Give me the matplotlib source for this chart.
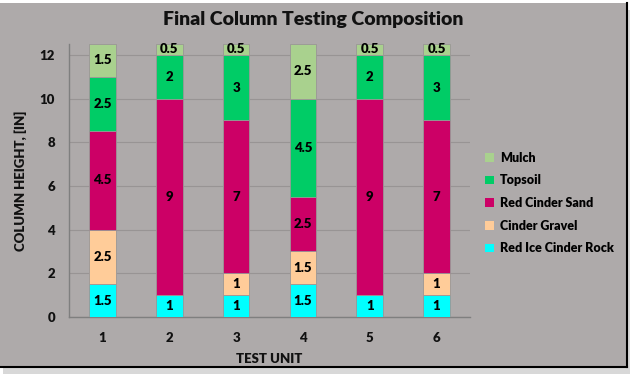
import numpy as np
import matplotlib.pyplot as plt
from matplotlib.patches import Rectangle
from matplotlib.lines import Line2D

plt.rcParams['font.family'] = ['Lato', 'DejaVu Sans']
plt.rcParams['font.weight'] = 'bold'

units = ['1', '2', '3', '4', '5', '6']
layers = ['Red Ice Cinder Rock', 'Cinder Gravel', 'Red Cinder Sand', 'Topsoil', 'Mulch']
rock = [1.5, 1, 1, 1.5, 1, 1]
gravel = [2.5, 0, 1, 1.5, 0, 1]
sand = [4.5, 9, 7, 2.5, 9, 7]
topsoil = [2.5, 2, 3, 4.5, 2, 3]
mulch = [1.5, 0.5, 0.5, 2.5, 0.5, 0.5]
colors = ['#00ffff', '#ffcc99', '#cc0066', '#00cc66', '#a9d18e']

bg = '#aeaaaa'
fig = plt.figure(figsize=(6.39, 3.77), dpi=100, facecolor='white')

# chart area box with shadow
W, H = 639, 377
fig.patches.append(Rectangle((3 / W, 3 / H), 627 / W, 364 / H, transform=fig.transFigure,
                             facecolor='#d8d8d8', edgecolor='none', zorder=-3))
fig.patches.append(Rectangle((0, 10 / H), 627 / W, 364 / H, transform=fig.transFigure,
                             facecolor=bg, edgecolor='none', zorder=-2))
fig.lines.append(Line2D([627 / W, 627 / W], [10 / H, 374 / H], transform=fig.transFigure,
                        color='black', lw=1.5, zorder=-1))
fig.lines.append(Line2D([0, 627 / W], [10 / H, 10 / H], transform=fig.transFigure,
                        color='black', lw=1.5, zorder=-1))

ax = fig.add_axes([69 / W, 1 - 317 / H, 401 / W, 273 / H])
ax.set_facecolor('none')

x = np.arange(len(units))
bottom = np.zeros(len(units))
for name, vals, c in zip(layers, [rock, gravel, sand, topsoil, mulch], colors):
    vals = np.array(vals, dtype=float)
    bars = ax.bar(x, vals, 0.4, bottom=bottom, color=c, edgecolor='#9a9696',
                  linewidth=0.6, label=name, zorder=3)
    labels = ['{:g}'.format(v) if v > 0 else '' for v in vals]
    ax.bar_label(bars, labels=labels, label_type='center', fontsize=9.5,
                 fontweight='heavy', color='black')
    bottom += vals

ax.set_xlim(-0.5, 5.5)
ax.set_ylim(0, 12.5)
ax.set_yticks(np.arange(0, 13, 2))
ax.set_xticks(x)
ax.set_xticklabels(units)
ax.tick_params(length=0, labelsize=9.5, colors='#111111')
ax.tick_params(axis='x', pad=11)
ax.tick_params(axis='y', pad=10)
for t in ax.get_xticklabels() + ax.get_yticklabels():
    t.set_fontweight('heavy')

ax.grid(axis='y', color='#989494', linewidth=0.8, zorder=0)
for s in ['top', 'right']:
    ax.spines[s].set_visible(False)
for s in ['left', 'bottom']:
    ax.spines[s].set_color('#7f7f7f')
    ax.spines[s].set_linewidth(1.0)

ax.set_xlabel('TEST UNIT', fontsize=9.5, fontweight='heavy', color='#111111', labelpad=6)
ax.set_ylabel('COLUMN HEIGHT, [IN]', fontsize=9.5, fontweight='heavy', color='#111111', labelpad=9)

fig.text(0.49, 1 - 20 / H, 'Final Column Testing Composition', ha='center', va='center',
         fontsize=14, fontweight='heavy', color='#111111')

handles, labs = ax.get_legend_handles_labels()
leg = fig.legend(handles[::-1], labs[::-1], loc='center left', bbox_to_anchor=(474 / W, 1 - 203 / H),
                 frameon=False, handlelength=0.7, handleheight=0.7,
                 handletextpad=0.5, labelspacing=0.85, prop={'weight': 'heavy', 'size': 9})
for h in leg.legend_handles:
    h.set_edgecolor('none')

plt.savefig('out.png', dpi=100, facecolor=fig.get_facecolor())
